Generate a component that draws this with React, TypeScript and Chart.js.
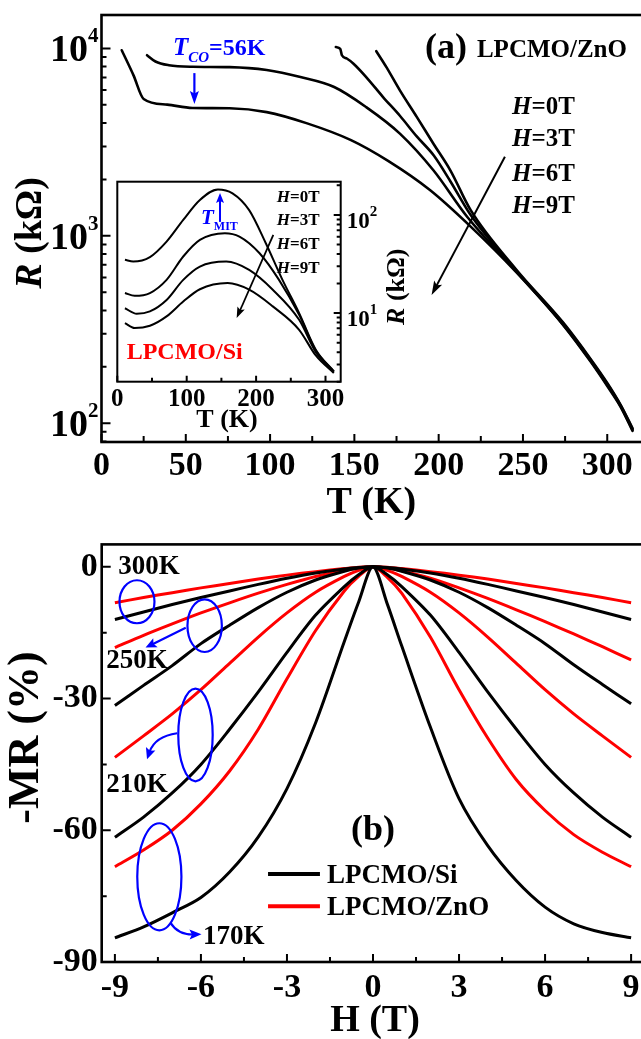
import React, { useEffect, useRef } from 'react';
import { Chart, registerables } from 'chart.js';

Chart.register(...registerables);

const SERIF = '"Liberation Serif", "Times New Roman", Times, serif';

// ---------------- Panel (a): LPCMO/ZnO  R (kΩ) vs T (K) ----------------
const znoT_0T = [163, 169, 177, 187, 197, 207, 219, 246, 274, 290, 300, 308, 315];
const znoR_0T = [9660, 7940, 5970, 4310, 3090, 2230, 1370, 661, 343, 221, 164, 125, 94];
const znoT_3T = [139, 141.6, 142.6, 145.5, 149.5, 157, 167, 177, 187, 197, 207, 219, 246, 274, 290, 300, 308, 315];
const znoR_3T = [10160, 9950, 9190, 8830, 8280, 7030, 5500, 4370, 3390, 2690, 1950, 1290, 653, 339, 219, 162, 124, 93];
const znoT_6T = [27, 32, 40, 54, 76, 98, 118, 138, 157, 177, 197, 217, 246, 274, 290, 300, 308, 315];
const znoR_6T = [9200, 8510, 8130, 7980, 7940, 7660, 7030, 6220, 4860, 3510, 2230, 1260, 646, 335, 216, 160, 123, 92];
const znoT_9T = [12, 19, 25, 39, 54, 76, 98, 122, 148, 170, 195, 219, 246, 274, 290, 300, 308, 315];
const znoR_9T = [9770, 7180, 5370, 5010, 4810, 4790, 4570, 3980, 3240, 2510, 1750, 1120, 640, 333, 214, 158, 122, 91];
const fieldLabels = ['H=0T', 'H=3T', 'H=6T', 'H=9T'];

const mainXTickLabels = [0, 50, 100, 150, 200, 250, 300];
const mainYDecades = [100, 1000, 10000];

// ---------------- Inset: LPCMO/Si ----------------
const siT_0T = [11, 23, 47, 71, 95, 119, 145, 166, 190, 214, 238, 262, 286, 312];
const siR_0T = [34.9, 33.5, 37.2, 53.5, 89, 142, 182, 166, 112, 51.5, 21.8, 10, 4.24, 2.55];
const siT_3T = [11, 25, 47, 71, 95, 119, 155, 176, 205, 233, 262, 286, 312];
const siR_3T = [16, 15, 16, 21.8, 37.7, 55.7, 65.2, 60.2, 40.7, 21.8, 9.6, 4.15, 2.55];
const siT_6T = [11, 28, 47, 71, 95, 119, 157, 190, 224, 262, 286, 312];
const siR_6T = [11.2, 9.84, 10.4, 13.6, 21.8, 29.8, 33.5, 27.5, 17.3, 8.55, 4.0, 2.5];
const siT_9T = [11, 25, 47, 71, 95, 119, 159, 190, 224, 262, 286, 312];
const siR_9T = [7.9, 7.03, 7.43, 9.25, 13.1, 17.5, 20.2, 17.3, 11.7, 6.76, 3.7, 2.45];
const insetXTickLabels = [0, 100, 200, 300];
const insetYDecades = [10, 100];

// ---------------- Panel (b): -MR (%) vs H (T) ----------------
const fieldH = [-9, -8, -7, -6, -5, -4, -3, -2, -1, -0.5, 0, 0.5, 1, 2, 3, 4, 5, 6, 7, 8, 9];
const siMR_170K = [-84.5, -82, -78.8, -75.3, -69.5, -61.5, -50.5, -35.5, -17, -8, 0, -8.5, -18, -36.5, -52.8, -63.5, -71.5, -77.5, -81.3, -83.3, -84.5];
const znoMR_170K = [-68.3, -64.5, -60, -54, -46.5, -37, -25.5, -14.5, -5.5, -2.2, 0, -2.4, -6, -16, -28, -39, -48.5, -55.5, -61, -65, -68.3];
const siMR_210K = [-61.6, -57, -51.5, -45, -37, -28.5, -19.5, -11, -4.5, -1.8, 0, -1.8, -4.5, -11, -19.5, -28.5, -37, -45, -51.5, -57, -61.6];
const znoMR_210K = [-43.4, -38.5, -33.5, -28, -22, -16, -10.5, -5.8, -2.2, -0.8, 0, -0.8, -2.2, -5.8, -10.5, -16, -22, -28, -33.5, -38.5, -43.4];
const siMR_250K = [-31.6, -27, -22.5, -17.5, -13.3, -9.3, -5.8, -3, -1, -0.3, 0, -0.3, -1, -3, -5.8, -9.3, -13.3, -17.5, -22.3, -26.8, -31.2];
const znoMR_250K = [-18.4, -15.6, -13, -10.5, -8.2, -6, -4, -2.2, -0.8, -0.25, 0, -0.3, -0.9, -2.6, -4.8, -7.2, -9.8, -12.5, -15.3, -18.2, -21.2];
const siMR_300K = [-12, -10.3, -8.6, -7, -5.5, -4, -2.6, -1.4, -0.5, -0.15, 0, -0.15, -0.5, -1.4, -2.6, -4, -5.5, -7, -8.6, -10.3, -12];
const znoMR_300K = [-8.2, -7, -5.9, -4.8, -3.8, -2.8, -1.9, -1.1, -0.4, -0.1, 0, -0.1, -0.4, -1.1, -1.9, -2.8, -3.8, -4.8, -5.9, -7, -8.2];
const mrXTickLabels = [-9, -6, -3, 0, 3, 6, 9];
const mrYTickLabels = [-90, -60, -30, 0];
const tempLabels = ['300K', '250K', '210K', '170K'];

// ---------------- helpers ----------------
type Part = { t: string; size: number; italic?: boolean; dy?: number; color?: string };

function setFont(ctx: CanvasRenderingContext2D, p: Part) {
  ctx.font = `${p.italic ? 'italic ' : ''}bold ${p.size}px ${SERIF}`;
}
function partsWidth(ctx: CanvasRenderingContext2D, parts: Part[]) {
  let w = 0;
  for (const p of parts) { setFont(ctx, p); w += ctx.measureText(p.t).width; }
  return w;
}
function drawParts(ctx: CanvasRenderingContext2D, x: number, y: number, parts: Part[], align: 'left' | 'center' | 'right' = 'left', color = '#000') {
  const w = partsWidth(ctx, parts);
  let cx = align === 'center' ? x - w / 2 : align === 'right' ? x - w : x;
  ctx.textAlign = 'left';
  ctx.textBaseline = 'alphabetic';
  for (const p of parts) {
    setFont(ctx, p);
    ctx.fillStyle = p.color || color;
    ctx.fillText(p.t, cx, y + (p.dy || 0));
    cx += ctx.measureText(p.t).width;
  }
}
function drawRotated(ctx: CanvasRenderingContext2D, cx: number, cy: number, parts: Part[], size: number) {
  ctx.save();
  ctx.translate(cx, cy);
  ctx.rotate(-Math.PI / 2);
  drawParts(ctx, 0, size * 0.34, parts, 'center');
  ctx.restore();
}
function arrowHead(ctx: CanvasRenderingContext2D, x: number, y: number, ang: number, len: number, half: number, color: string) {
  ctx.fillStyle = color;
  ctx.beginPath();
  ctx.moveTo(x, y);
  ctx.lineTo(x - len * Math.cos(ang) + half * Math.sin(ang), y - len * Math.sin(ang) - half * Math.cos(ang));
  ctx.lineTo(x - len * Math.cos(ang) * 0.8, y - len * Math.sin(ang) * 0.8);
  ctx.lineTo(x - len * Math.cos(ang) - half * Math.sin(ang), y - len * Math.sin(ang) + half * Math.cos(ang));
  ctx.closePath();
  ctx.fill();
}
function arrow(ctx: CanvasRenderingContext2D, x1: number, y1: number, x2: number, y2: number, color: string, lw: number, len: number, half: number) {
  const ang = Math.atan2(y2 - y1, x2 - x1);
  ctx.strokeStyle = color;
  ctx.lineWidth = lw;
  ctx.beginPath();
  ctx.moveTo(x1, y1);
  ctx.lineTo(x2 - len * 0.7 * Math.cos(ang), y2 - len * 0.7 * Math.sin(ang));
  ctx.stroke();
  arrowHead(ctx, x2, y2, ang, len, half, color);
}
function curvedArrow(ctx: CanvasRenderingContext2D, x1: number, y1: number, cxp: number, cyp: number, x2: number, y2: number, color: string, lw: number, len: number, half: number) {
  const ang = Math.atan2(y2 - cyp, x2 - cxp);
  ctx.strokeStyle = color;
  ctx.lineWidth = lw;
  ctx.beginPath();
  ctx.moveTo(x1, y1);
  ctx.quadraticCurveTo(cxp, cyp, x2 - len * 0.7 * Math.cos(ang), y2 - len * 0.7 * Math.sin(ang));
  ctx.stroke();
  arrowHead(ctx, x2, y2, ang, len, half, color);
}
function tickRange(from: number, to: number, step: number) {
  const out: number[] = [];
  for (let v = from; v <= to + 1e-9; v += step) out.push(Math.round(v * 1000) / 1000);
  return out;
}
function logMinorTicks(min: number, max: number) {
  const out: number[] = [];
  for (let d = Math.floor(Math.log10(min)); d <= Math.ceil(Math.log10(max)); d++) {
    for (let m = 1; m <= 9; m++) {
      const v = m * Math.pow(10, d);
      if (v >= min && v <= max) out.push(v);
    }
  }
  return out;
}
const pts = (xs: number[], ys: number[]) => xs.map((x, i) => ({ x, y: ys[i] }));

const noGrid = { display: false, drawTicks: false };
const noBorder = { display: false };

// ---------------- App ----------------
export default function App() {
  const aRef = useRef<HTMLCanvasElement>(null);
  const iRef = useRef<HTMLCanvasElement>(null);
  const bRef = useRef<HTMLCanvasElement>(null);

  useEffect(() => {
    const charts: Chart[] = [];

    // ===== Panel (a) =====
    const lineA = (label: string, xs: number[], ys: number[]) => ({
      label, data: pts(xs, ys), borderColor: '#000', borderWidth: 2.6, pointRadius: 0,
      cubicInterpolationMode: 'monotone' as const, fill: false, borderJoinStyle: 'round' as const, borderCapStyle: 'round' as const,
    });
    const decorA = {
      id: 'decorA',
      afterDatasetsDraw(chart: any) {
        const { ctx, chartArea: a } = chart;
        const x = chart.scales.x, y = chart.scales.y;
        ctx.save();
        ctx.strokeStyle = '#000';
        ctx.lineWidth = 2.6;
        ctx.strokeRect(a.left, a.top, a.right - a.left, a.bottom - a.top);
        ctx.lineWidth = 2;
        ctx.beginPath();
        for (const v of tickRange(0, 300, 25)) {
          const px = x.getPixelForValue(v);
          const len = v % 50 === 0 ? 8 : 6;
          ctx.moveTo(px, a.bottom); ctx.lineTo(px, a.bottom - len);
        }
        for (const v of logMinorTicks(y.min, y.max)) {
          const py = y.getPixelForValue(v);
          const len = mainYDecades.includes(v) ? 9 : 5;
          ctx.moveTo(a.left, py); ctx.lineTo(a.left + len, py);
        }
        ctx.stroke();
        // y tick labels 10^n
        for (const v of mainYDecades) {
          const py = y.getPixelForValue(v);
          const e = String(Math.round(Math.log10(v)));
          drawParts(ctx, a.left - 13.5, py + 13, [{ t: '10', size: 38 }], 'right');
          drawParts(ctx, a.left - 13.5, py - 6, [{ t: e, size: 21 }], 'left');
        }
        // axis titles
        drawParts(ctx, (a.left + 641) / 2, 513, [{ t: 'T (K)', size: 38 }], 'center');
        drawRotated(ctx, 28, 233, [{ t: 'R', size: 38, italic: true }, { t: ' (kΩ)', size: 38 }], 38);
        // annotations
        const px = (t: number) => x.getPixelForValue(t);
        const py = (r: number) => y.getPixelForValue(r);
        drawParts(ctx, px(42.4), py(9210), [
          { t: 'T', size: 25, italic: true }, { t: 'CO', size: 15, italic: true, dy: 7 }, { t: '=56K', size: 24 },
        ], 'left', '#0000ff');
        arrow(ctx, px(55.1), py(7380), px(55.1), py(5050), '#0000ff', 2.2, 13, 4.5);
        drawParts(ctx, px(191.9), py(8880), [{ t: '(a)', size: 36 }], 'left');
        drawParts(ctx, px(222.7), py(8990), [{ t: 'LPCMO/ZnO', size: 25 }], 'left');
        const hBase = [4467, 3000, 1954, 1324];
        fieldLabels.forEach((lab, i) => {
          drawParts(ctx, px(243.5), py(hBase[i]), [{ t: 'H', size: 25, italic: true }, { t: lab.slice(1), size: 25 }], 'left');
        });
        arrow(ctx, px(239.3), py(2642), px(195.8), py(483), '#000', 2, 14, 4.5);
        ctx.restore();
      },
    };
    charts.push(new Chart(aRef.current!, {
      type: 'line',
      data: {
        datasets: [
          lineA(fieldLabels[0], znoT_0T, znoR_0T),
          lineA(fieldLabels[1], znoT_3T, znoR_3T),
          lineA(fieldLabels[2], znoT_6T, znoR_6T),
          lineA(fieldLabels[3], znoT_9T, znoR_9T),
        ],
      },
      options: {
        responsive: false, animation: false, devicePixelRatio: 1,
        layout: { padding: { top: 15, right: 1, left: 0, bottom: 0 } },
        plugins: { legend: { display: false }, tooltip: { enabled: false } },
        scales: {
          x: {
            type: 'linear', min: 0, max: 321.8,
            afterBuildTicks: (s: any) => { s.ticks = mainXTickLabels.map((v) => ({ value: v })); },
            afterFit: (s: any) => { s.height = 78; },
            grid: noGrid, border: noBorder,
            ticks: { color: '#000', padding: 4, maxRotation: 0, autoSkip: false, font: { family: SERIF, size: 34, weight: 'bold' }, callback: (v: any) => String(v) },
          },
          y: {
            type: 'logarithmic', min: 79.4, max: 15070,
            afterFit: (s: any) => { s.width = 101.5; },
            grid: noGrid, border: noBorder, ticks: { display: false },
          },
        },
      },
      plugins: [decorA],
    } as any));

    // ===== Inset =====
    const lineI = (label: string, xs: number[], ys: number[]) => ({
      label, data: pts(xs, ys), borderColor: '#000', borderWidth: 2, pointRadius: 0,
      cubicInterpolationMode: 'monotone' as const, fill: false,
    });
    const decorI = {
      id: 'decorI',
      afterDatasetsDraw(chart: any) {
        const { ctx, chartArea: a } = chart;
        const x = chart.scales.x, y = chart.scales.y;
        ctx.save();
        ctx.strokeStyle = '#000';
        ctx.lineWidth = 2;
        ctx.strokeRect(a.left, a.top, a.right - a.left, a.bottom - a.top);
        ctx.beginPath();
        for (const v of tickRange(0, 300, 50)) {
          const px = x.getPixelForValue(v);
          const len = v % 100 === 0 ? 6 : 4;
          ctx.moveTo(px, a.bottom); ctx.lineTo(px, a.bottom - len);
        }
        for (const v of logMinorTicks(y.min, y.max)) {
          const py = y.getPixelForValue(v);
          const len = insetYDecades.includes(v) ? 7 : 4;
          ctx.moveTo(a.right, py); ctx.lineTo(a.right - len, py);
        }
        ctx.stroke();
        for (const v of insetYDecades) {
          const py = y.getPixelForValue(v);
          const e = String(Math.round(Math.log10(v)));
          const w = partsWidth(ctx, [{ t: '10', size: 23 }]);
          drawParts(ctx, a.right + 6, py + 13, [{ t: '10', size: 23 }], 'left');
          drawParts(ctx, a.right + 6 + w, py + 1, [{ t: e, size: 15 }], 'left');
        }
        drawParts(ctx, (a.left + a.right) / 2 - 2, a.bottom + 45, [{ t: 'T (K)', size: 26 }], 'center');
        drawRotated(ctx, a.right + 54.3, a.top + 105, [{ t: 'R', size: 26, italic: true }, { t: ' (kΩ)', size: 26 }], 26);
        const px = (t: number) => x.getPixelForValue(t);
        const py = (r: number) => y.getPixelForValue(r);
        const hBase = [135.5, 78.5, 45.4, 25.8];
        fieldLabels.forEach((lab, i) => {
          drawParts(ctx, px(229.8), py(hBase[i]), [{ t: 'H', size: 17, italic: true }, { t: lab.slice(1), size: 17 }], 'left');
        });
        arrow(ctx, px(224.8), py(62.7), px(172), py(8.9), '#000', 1.8, 11, 4);
        drawParts(ctx, px(120.6), py(80.9), [{ t: 'T', size: 21, italic: true }, { t: 'MIT', size: 12, dy: 6 }], 'left', '#0000ff');
        arrow(ctx, px(148), py(84.9), px(148), py(167.5), '#0000ff', 2, 10, 4);
        drawParts(ctx, px(13.5), py(3.43), [{ t: 'LPCMO/Si', size: 24 }], 'left', '#ff0000');
        ctx.restore();
      },
    };
    charts.push(new Chart(iRef.current!, {
      type: 'line',
      data: {
        datasets: [
          lineI(fieldLabels[0], siT_0T, siR_0T),
          lineI(fieldLabels[1], siT_3T, siR_3T),
          lineI(fieldLabels[2], siT_6T, siR_6T),
          lineI(fieldLabels[3], siT_9T, siR_9T),
        ],
      },
      options: {
        responsive: false, animation: false, devicePixelRatio: 1,
        layout: { padding: { top: 11.7, left: 17.3, right: 0, bottom: 0 } },
        plugins: { legend: { display: false }, tooltip: { enabled: false } },
        scales: {
          x: {
            type: 'linear', min: 0, max: 321.9,
            afterBuildTicks: (s: any) => { s.ticks = insetXTickLabels.map((v) => ({ value: v })); },
            afterFit: (s: any) => { s.height = 58.3; },
            grid: noGrid, border: noBorder,
            ticks: { color: '#000', padding: 3, maxRotation: 0, autoSkip: false, font: { family: SERIF, size: 25, weight: 'bold' }, callback: (v: any) => String(v) },
          },
          y: {
            type: 'logarithmic', position: 'right', min: 2.0, max: 218,
            afterFit: (s: any) => { s.width = 79.3; },
            grid: noGrid, border: noBorder, ticks: { display: false },
          },
        },
      },
      plugins: [decorI],
    } as any));

    // ===== Panel (b) =====
    const lineB = (label: string, ys: number[], color: string) => ({
      label, data: pts(fieldH, ys), borderColor: color, borderWidth: 3, pointRadius: 0, tension: 0.3, fill: false,
    });
    const decorB = {
      id: 'decorB',
      afterDatasetsDraw(chart: any) {
        const { ctx, chartArea: a } = chart;
        const x = chart.scales.x, y = chart.scales.y;
        const px = (h: number) => x.getPixelForValue(h);
        const py = (m: number) => y.getPixelForValue(m);
        ctx.save();
        ctx.strokeStyle = '#000';
        ctx.lineWidth = 2.6;
        ctx.strokeRect(a.left, a.top, a.right - a.left, a.bottom - a.top);
        ctx.lineWidth = 2;
        ctx.beginPath();
        for (const v of tickRange(-9, 9, 1.5)) {
          const p = px(v);
          const len = Math.abs(v % 3) < 1e-6 ? 8 : 5;
          ctx.moveTo(p, a.bottom); ctx.lineTo(p, a.bottom - len);
        }
        for (const v of tickRange(-90, 0, 15)) {
          const p = py(v);
          const len = Math.abs(v % 30) < 1e-6 ? 9 : 5;
          ctx.moveTo(a.left, p); ctx.lineTo(a.left + len, p);
        }
        ctx.stroke();
        drawParts(ctx, 375, 511, [{ t: 'H (T)', size: 38 }], 'center');
        drawRotated(ctx, 23.5, 217.5, [{ t: '-MR (%)', size: 44 }], 44);
        // temperature labels
        const tl: [number, number][] = [[-8.88, -1.7], [-9.3, -23.1], [-9.3, -51.2], [-5.93, -85.8]];
        tempLabels.forEach((lab, i) => drawParts(ctx, px(tl[i][0]), py(tl[i][1]), [{ t: lab, size: 27 }], 'left'));
        drawParts(ctx, px(0), py(-62.3), [{ t: '(b)', size: 36 }], 'center');
        // ellipses
        const ell: [number, number, number, number][] = [
          [-8.23, -7.96, 0.61, 4.9], [-5.87, -13.4, 0.6, 6.0], [-6.19, -38.3, 0.6, 10.55], [-7.45, -70.6, 0.77, 12.2],
        ];
        ctx.strokeStyle = '#0000ff';
        ctx.lineWidth = 2.2;
        for (const [h, m, dh, dm] of ell) {
          ctx.beginPath();
          ctx.ellipse(px(h), py(m), Math.abs(px(h + dh) - px(h)), Math.abs(py(m + dm) - py(m)), 0, 0, Math.PI * 2);
          ctx.stroke();
        }
        arrow(ctx, px(-6.53), py(-13.9), px(-7.93), py(-18.4), '#0000ff', 2.2, 11, 5);
        curvedArrow(ctx, px(-6.83), py(-37.9), px(-7.6), py(-38.6), px(-7.88), py(-43.8), '#0000ff', 2.2, 11, 5);
        curvedArrow(ctx, px(-7.06), py(-81.1), px(-6.8), py(-83.8), px(-5.98), py(-83.7), '#0000ff', 2.2, 12, 5);
        // legend
        const leg: [string, string, number][] = [['LPCMO/Si', '#000', -69.97], ['LPCMO/ZnO', '#ff0000', -77.3]];
        for (const [name, col, m] of leg) {
          ctx.strokeStyle = col;
          ctx.lineWidth = 4;
          ctx.beginPath();
          ctx.moveTo(px(-3.66), py(m)); ctx.lineTo(px(-1.85), py(m));
          ctx.stroke();
          drawParts(ctx, px(-1.6), py(m) + 9, [{ t: name, size: 27 }], 'left');
        }
        ctx.restore();
      },
    };
    charts.push(new Chart(bRef.current!, {
      type: 'line',
      data: {
        datasets: [
          lineB('LPCMO/Si 170K', siMR_170K, '#000'),
          lineB('LPCMO/Si 210K', siMR_210K, '#000'),
          lineB('LPCMO/Si 250K', siMR_250K, '#000'),
          lineB('LPCMO/Si 300K', siMR_300K, '#000'),
          lineB('LPCMO/ZnO 170K', znoMR_170K, '#ff0000'),
          lineB('LPCMO/ZnO 210K', znoMR_210K, '#ff0000'),
          lineB('LPCMO/ZnO 250K', znoMR_250K, '#ff0000'),
          lineB('LPCMO/ZnO 300K', znoMR_300K, '#ff0000'),
        ],
      },
      options: {
        responsive: false, animation: false, devicePixelRatio: 1,
        layout: { padding: { top: 15, right: 1.7, left: 0, bottom: 0 } },
        plugins: { legend: { display: false }, tooltip: { enabled: false } },
        scales: {
          x: {
            type: 'linear', min: -9.46, max: 9.46,
            afterBuildTicks: (s: any) => { s.ticks = mrXTickLabels.map((v) => ({ value: v })); },
            afterFit: (s: any) => { s.height = 77; },
            grid: noGrid, border: noBorder,
            ticks: { color: '#000', padding: 6, maxRotation: 0, autoSkip: false, font: { family: SERIF, size: 34, weight: 'bold' }, callback: (v: any) => String(v) },
          },
          y: {
            type: 'linear', min: -90, max: 5.1,
            afterBuildTicks: (s: any) => { s.ticks = mrYTickLabels.map((v) => ({ value: v })); },
            afterFit: (s: any) => { s.width = 101.7; },
            grid: noGrid, border: noBorder,
            ticks: { color: '#000', padding: 4, font: { family: SERIF, size: 34, weight: 'bold' }, callback: (v: any) => String(v) },
          },
        },
      },
      plugins: [decorB],
    } as any));

    return () => charts.forEach((c) => c.destroy());
  }, []);

  return (
    <div style={{ position: 'fixed', left: 0, top: 0, width: 641, height: 1039, overflow: 'hidden', background: '#fff' }}>
      <canvas ref={aRef} width={645} height={520} style={{ position: 'absolute', left: 0, top: 0, width: 645, height: 520 }} />
      <canvas ref={iRef} width={320} height={270} style={{ position: 'absolute', left: 100, top: 170, width: 320, height: 270 }} />
      <canvas ref={bRef} width={646} height={519} style={{ position: 'absolute', left: 0, top: 520, width: 646, height: 519 }} />
    </div>
  );
}
